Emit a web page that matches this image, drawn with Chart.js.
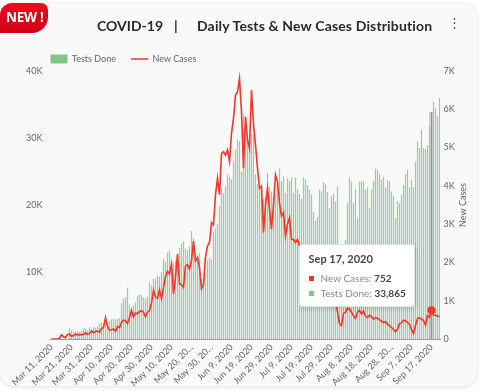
<!DOCTYPE html>
<html>
<head>
<meta charset="utf-8">
<script src="https://cdn.jsdelivr.net/npm/chart.js@4.4.1/dist/chart.umd.min.js"></script>
<style>
  body { margin: 0; background: #fff; font-family: Lato, "Noto Sans", sans-serif; }
  #card { position: absolute; left: 0; top: 3px; width: 477px; height: 383px; background: #f9f9f9;
          border-radius: 14px; box-shadow: 0 1px 4px rgba(0,0,0,0.13); }
  #chart { position: absolute; left: 0; top: 0; }
  #badge { position: absolute; left: 0; top: 3px; width: 48px; height: 30px; color: #fff; white-space: nowrap;
           background: linear-gradient(#f2061f, #d10015); border-radius: 12px 7px 16px 0;
           font: bold 13.5px "Open Sans", sans-serif; line-height: 28px; text-indent: 6px; letter-spacing: -0.3px; }
  .hd { position: absolute; top: 17px; font-size: 14px; font-weight: bold; color: #2a2a2a; white-space: pre; }
  #menu { position: absolute; left: 448px; top: 14px; font-size: 13px; color: #555; }
  #tip { position: absolute; display: none; width: 96px; padding: 7px 9px 5px 9px; background: #fff;
         border: 1px solid #e2e2e2; border-radius: 3px; box-shadow: 1px 2px 5px rgba(0,0,0,0.14); font-size: 10px; }
  #tip .t { font-size: 11px; font-weight: bold; color: #444; line-height: 14px; margin-bottom: 5px; }
  #tip .r { line-height: 15px; color: #8a8a8a; white-space: nowrap; }
  #tip .m { display: inline-block; width: 5px; height: 5px; margin-right: 7px; vertical-align: 1px; }
  #tip b { color: #444; }
</style>
</head>
<body>
<div id="card"></div>
<canvas id="chart" width="477" height="386"></canvas>
<div id="badge">NEW !</div>
<div class="hd" style="left:97px">COVID-19</div>
<div class="hd" style="left:174px">|</div>
<div class="hd" style="left:197px;letter-spacing:0.15px">Daily Tests &amp; New Cases Distribution</div>
<div id="menu">&#8942;</div>
<div id="tip"></div>
<script>
// daily values, Mar 11 2020 onwards
const testsDone = [
  0, 0, 0, 0, 0, 0, 50, 80, 120, 1600,
  1300, 1100, 1100, 1200, 1100, 1200, 1600, 1600, 1300, 1700,
  1400, 1800, 1700, 1900, 2300, 2500, 2300, 2300, 2400, 2700,
  2900, 3000, 2900, 3000, 3100, 5300, 6000, 6200, 7650, 5200,
  4550, 5000, 5500, 6400, 6650, 6550, 6200, 6000, 6300, 8500,
  8000, 9000, 9000, 9500, 9300, 10000, 11950, 11500, 12900, 13200,
  11500, 11300, 11700, 12000, 13600, 14200, 14600, 13500, 13300, 13800,
  16100, 15000, 12500, 12100, 12800, 9000, 8500, 9500, 11700, 12100,
  11900, 16000, 16500, 17200, 19800, 22500, 21800, 22800, 24500, 24200,
  23800, 26500, 28300, 29800, 29500, 25000, 33500, 31200, 30500, 28500,
  30700, 30500, 24600, 23100, 23000, 23100, 20900, 21000, 24800, 22600,
  22000, 21000, 21500, 22600, 25400, 23600, 24300, 21800, 24000, 23600,
  24100, 21800, 24100, 22400, 21600, 20900, 24100, 23800, 23000, 22300,
  21600, 18900, 17600, 18200, 22300, 22000, 23400, 23100, 21900, 19500,
  21300, 21700, 20500, 22800, 11000, 9500, 12000, 14800, 20300, 24100,
  23500, 20300, 22400, 18100, 23500, 23500, 23600, 22300, 22600, 19600,
  22300, 23600, 25400, 25200, 24600, 23800, 24200, 22600, 23700, 23500,
  22000, 21300, 18100, 20600, 20300, 21500, 23000, 24600, 25300, 22600,
  23800, 22700, 26500, 29500, 28500, 31200, 28500, 28400, 28900, 31700,
  33865, 35500, 34400, 33200, 36000
];
const newCases = [
  0, 0, 0, 0, 20, 110, 60, 40, 120, 130,
  70, 90, 130, 100, 120, 110, 120, 160, 120, 140,
  210, 170, 190, 210, 180, 270, 300, 560, 320, 230,
  240, 260, 200, 330, 300, 430, 490, 480, 400, 560,
  750, 580, 680, 660, 720, 740, 700, 580, 700, 740,
  930, 1270, 1100, 1060, 1290, 1050, 1350, 1630, 1770, 1700,
  1960, 1180, 1610, 2220, 1440, 1420, 1350, 1910, 1940, 1830,
  2040, 2560, 2040, 2130, 1870, 1310, 1420, 2130, 2430, 2520,
  3040, 2980, 3770, 4200, 3770, 4850, 4890, 4800, 4940, 4640,
  5370, 5760, 6370, 6450, 6800, 5940, 4460, 5800, 5200, 4980,
  6500, 5600, 5070, 4460, 3940, 3980, 2780, 3500, 3940, 3400,
  2870, 3500, 4290, 4100, 3550, 3210, 3300, 2690, 3000, 3170,
  2600, 2600, 2520, 2600, 2430, 2300, 2200, 2350, 2100, 2000,
  1950, 2050, 1800, 1750, 1600, 1650, 1500, 1450, 1400, 1300,
  1250, 1150, 1000, 700, 400, 350, 670, 700, 800, 780,
  700, 600, 540, 700, 750, 650, 725, 600, 560, 620,
  590, 520, 560, 540, 500, 470, 430, 450, 390, 350,
  300, 250, 190, 260, 400, 420, 490, 480, 430, 380,
  250, 140, 350, 540, 560, 520, 480, 360, 620, 560,
  752, 620, 620, 600, 580
];
const tickLabels = [
  'Mar 11, 2020', 'Mar 21, 2020', 'Mar 31, 2020', 'Apr 10, 2020', 'Apr 20, 2020',
  'Apr 30, 2020', 'May 10, 2020', 'May 20, 20...', 'May 30, 20...', 'Jun 9, 2020',
  'Jun 19, 2020', 'Jun 29, 2020', 'Jul 9, 2020', 'Jul 19, 2020', 'Jul 29, 2020',
  'Aug 8, 2020', 'Aug 18, 2020', 'Aug 28, 20...', 'Sep 7, 2020', 'Sep 17, 2020'
];
const leftTicks = ['', '10K', '20K', '30K', '40K'];
const rightTicks = ['0', '1K', '2K', '3K', '4K', '5K', '6K', '7K'];
const rightAxisTitle = 'New Cases';
const hoveredDay = 190;

const dates = testsDone.map((_, i) =>
  new Date(2020, 2, 11 + i).toLocaleDateString('en-US', { month: 'short', day: 'numeric', year: 'numeric' }));

Chart.defaults.font.family = "Lato, 'Noto Sans', sans-serif";
Chart.defaults.font.size = 9;
Chart.defaults.color = '#666';

// legend sits at the chart area's left edge, a bit lower than chart.js puts it
const legendNudge = {
  id: 'legendNudge',
  beforeDraw(c) {
    c.legend.left = 35.5;
    c.legend.top = 39.5;
  }
};

const sideTitle = {
  id: 'sideTitle',
  afterDraw(c) {
    const s = c.scales.y1, ctx = c.ctx;
    ctx.save();
    ctx.translate(s.right - 14, (c.chartArea.top + c.chartArea.bottom) / 2);
    ctx.rotate(-Math.PI / 2);
    ctx.font = "9px Lato, 'Noto Sans', sans-serif";
    ctx.fillStyle = '#666';
    ctx.textAlign = 'center';
    ctx.textBaseline = 'middle';
    ctx.fillText(rightAxisTitle, 0, 0);
    ctx.restore();
  }
};

const hoverColumn = {
  id: 'hoverColumn',
  beforeDatasetsDraw(c) {
    const act = c.tooltip.getActiveElements();
    if (!act.length) return;
    const bar = c.getDatasetMeta(0).data[act[0].index];
    c.ctx.save();
    c.ctx.fillStyle = 'rgba(120,120,120,0.28)';
    c.ctx.fillRect(bar.x - 2.5, bar.y, 4, c.chartArea.bottom - bar.y);
    c.ctx.restore();
  }
};

function drawTip({ chart, tooltip }) {
  const el = document.getElementById('tip');
  if (!tooltip.opacity || !tooltip.dataPoints) { el.style.display = 'none'; return; }
  const pts = tooltip.dataPoints.slice().sort((a, b) => b.datasetIndex - a.datasetIndex);
  let html = '<div class="t">' + tooltip.title[0] + '</div>';
  pts.forEach(p => {
    const col = p.datasetIndex === 1 ? p.dataset.borderColor : '#81c784';
    html += '<div class="r"><span class="m" style="background:' + col + '"></span>' +
      p.dataset.label + ': <b>' + p.raw.toLocaleString('en-US') + '</b></div>';
  });
  el.innerHTML = html;
  el.style.display = 'block';
  el.style.left = (tooltip.caretX - 133) + 'px';
  el.style.top = (chart.chartArea.top + 173) + 'px';
}

const chart = new Chart(document.getElementById('chart'), {
  data: {
    labels: dates,
    datasets: [
      {
        type: 'bar',
        label: 'Tests Done',
        data: testsDone,
        yAxisID: 'y',
        backgroundColor: 'rgb(146,208,148)',
        hoverBackgroundColor: 'rgba(140,140,140,0.9)',
        barPercentage: 0.6,
        categoryPercentage: 1,
        order: 1
      },
      {
        type: 'line',
        label: 'New Cases',
        data: newCases,
        yAxisID: 'y1',
        borderColor: '#f3362b',
        backgroundColor: '#f3362b',
        borderWidth: 1.6,
        pointRadius: 0,
        pointHoverRadius: 4,
        pointHoverBorderWidth: 0,
        pointHoverBackgroundColor: '#f3362b',
        order: 0
      }
    ]
  },
  options: {
    responsive: false,
    animation: false,
    events: [],
    layout: { padding: { top: 37 } },
    interaction: { mode: 'index', intersect: false },
    plugins: {
      legend: {
        align: 'start',
        labels: {
          usePointStyle: true,
          pointStyleWidth: 17,
          boxHeight: 9,
          padding: 15,
          sort: (a, b) => a.datasetIndex - b.datasetIndex,
          generateLabels(c) {
            const items = Chart.defaults.plugins.legend.labels.generateLabels(c);
            items.forEach(it => {
              it.pointStyle = it.datasetIndex === 0 ? 'rect' : 'line';
              if (it.datasetIndex === 0) it.fillStyle = '#81c784';
            });
            return items;
          }
        }
      },
      tooltip: { enabled: false, external: drawTip }
    },
    scales: {
      x: {
        grid: { color: 'transparent', drawTicks: false },
        border: { color: '#999' },
        ticks: {
          autoSkip: false, minRotation: 45, maxRotation: 45, padding: 3,
          callback: (v, i) => (i % 10 === 0 ? tickLabels[i / 10] : '')
        },
        afterFit: s => { s.height = 47; }
      },
      y: {
        position: 'left', min: 0, max: 40000,
        grid: { display: false, drawTicks: false },
        border: { display: false },
        ticks: { stepSize: 10000, padding: 8, callback: (v, i) => leftTicks[i] },
        afterFit: s => { s.width = 50.5; }
      },
      y1: {
        position: 'right', min: 0, max: 7000,
        grid: { display: false, drawTicks: false },
        border: { display: false },
        ticks: { stepSize: 1000, padding: 3, callback: (v, i) => rightTicks[i] },
        afterFit: s => { s.width = 36.5; }
      }
    }
  },
  plugins: [legendNudge, sideTitle, hoverColumn]
});

const active = [{ datasetIndex: 1, index: hoveredDay }, { datasetIndex: 0, index: hoveredDay }];
chart.setActiveElements(active);
chart.tooltip.setActiveElements(active, { x: 431, y: 210 });
chart.update();
</script>
</body>
</html>
